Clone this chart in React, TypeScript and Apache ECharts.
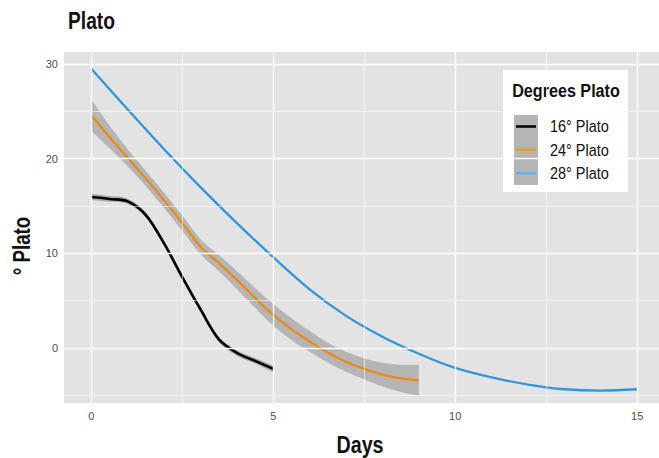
import React, { useEffect, useRef } from "react";
import * as echarts from "echarts";

const FONT = "'Liberation Sans', Arial, sans-serif";

// Data
const days16 = [0, 0.5, 1, 1.5, 2, 2.5, 3, 3.5, 4, 4.5, 5];
const plato16 = [15.95, 15.75, 15.5, 14.05, 11.05, 7.5, 4.1, 0.95, -0.5, -1.35, -2.2];
const se16 = [0.35, 0.3, 0.28, 0.28, 0.28, 0.28, 0.28, 0.28, 0.28, 0.3, 0.35];

const days24 = [0, 0.5, 1, 1.5, 2, 2.5, 3, 3.5, 4, 4.5, 5, 5.5, 6, 6.5, 7, 7.5, 8, 8.5, 9];
const plato24 = [24.6, 22.3, 20.1, 17.9, 15.6, 13.2, 10.7, 9.0, 7.2, 5.3, 3.5, 2.0, 0.7, -0.5, -1.45, -2.2, -2.8, -3.2, -3.4];
const se24 = [1.65, 1.2, 0.9, 0.8, 0.8, 0.8, 0.8, 0.85, 0.95, 1.05, 1.15, 1.15, 1.1, 1.05, 1.05, 1.1, 1.25, 1.45, 1.65];

const days28 = [0, 1, 2, 3, 4, 5, 6, 7, 8, 9, 10, 11, 12, 13, 14, 15];
const plato28 = [29.5, 25.2, 21.0, 17.0, 13.2, 9.6, 6.2, 3.4, 1.2, -0.6, -2.1, -3.1, -3.85, -4.35, -4.5, -4.35];

const xTicks = [0, 5, 10, 15];
const yTicks = [0, 10, 20, 30];
const xMinor = [2.5, 7.5, 12.5];
const yMinor = [-5, 5, 15, 25];

const seriesNames = ["16° Plato", "24° Plato", "28° Plato"];
const lineColors = ["#000000", "#e8891a", "#3196d8"];
const keyColors = ["#000000", "#e8a020", "#5db4e6"];

type Pt = number[];

function curveThrough(pts: Pt[]): string {
  let d = "";
  for (let i = 0; i < pts.length - 1; i++) {
    const p0 = pts[i - 1] || pts[i];
    const p1 = pts[i];
    const p2 = pts[i + 1];
    const p3 = pts[i + 2] || p2;
    const c1x = p1[0] + (p2[0] - p0[0]) / 6;
    const c1y = p1[1] + (p2[1] - p0[1]) / 6;
    const c2x = p2[0] - (p3[0] - p1[0]) / 6;
    const c2y = p2[1] - (p3[1] - p1[1]) / 6;
    d += ` C${c1x},${c1y} ${c2x},${c2y} ${p2[0]},${p2[1]}`;
  }
  return d;
}

function bandSeries(name: string, xs: number[], ys: number[], se: number[], color: string) {
  return {
    type: "custom",
    name,
    silent: true,
    z: 2,
    data: [[xs[0], ys[0]]],
    renderItem: (_params: any, api: any) => {
      const up = xs.map((x, i) => api.coord([x, ys[i] + se[i]]));
      const lo = xs.map((x, i) => api.coord([x, ys[i] - se[i]])).reverse();
      const d =
        `M${up[0][0]},${up[0][1]}` +
        curveThrough(up) +
        ` L${lo[0][0]},${lo[0][1]}` +
        curveThrough(lo) +
        " Z";
      return { type: "path", shape: { pathData: d }, style: { fill: color, stroke: "none" } };
    },
  };
}

function label(text: string, x: number, y: number, size: number, bold: boolean, sx: number, extra: any = {}) {
  return {
    type: "text",
    x,
    y,
    scaleX: sx,
    ...extra,
    style: {
      text,
      fontFamily: FONT,
      fontSize: size,
      fontWeight: bold ? "bold" : "normal",
      fill: "#111",
      align: extra.align || "left",
      verticalAlign: "middle",
    },
  };
}

export default function App() {
  const ref = useRef<HTMLDivElement>(null);
  useEffect(() => {
    if (!ref.current) return;
    const chart = echarts.init(ref.current, undefined, { renderer: "svg" });
    const major = { color: "#ffffff", width: 1.3, type: "solid" };
    const minor = { color: "#ffffff", width: 0.6, type: "solid" };
    const gridMarks = [
      ...yTicks.map((v) => ({ yAxis: v, lineStyle: major })),
      ...xTicks.map((v) => ({ xAxis: v, lineStyle: major })),
      ...yMinor.map((v) => ({ yAxis: v, lineStyle: minor })),
      ...xMinor.map((v) => ({ xAxis: v, lineStyle: minor })),
    ];
    const lineSeries = (i: number, xs: number[], ys: number[], w: number) => ({
      type: "line",
      name: seriesNames[i],
      data: xs.map((x, k) => [x, ys[k]]),
      smooth: 0.33,
      showSymbol: false,
      symbol: "none",
      lineStyle: { color: lineColors[i], width: w },
      z: 3,
    });
    const option: any = {
      animation: false,
      textStyle: { fontFamily: FONT },
      grid: {
        left: 64,
        right: 0,
        top: 52,
        bottom: 55,
        show: true,
        backgroundColor: "#e3e3e3",
        borderWidth: 0,
      },
      xAxis: {
        type: "value",
        min: -0.75,
        max: 15.6,
        axisLine: { show: false },
        splitLine: { show: false },
        axisTick: { show: true, customValues: xTicks, length: 4, lineStyle: { color: "#333", width: 1 } },
        axisLabel: { customValues: xTicks, fontSize: 11, color: "#4d4d4d", margin: 7, fontFamily: FONT },
      },
      yAxis: {
        type: "value",
        min: -5.8,
        max: 31.27,
        axisLine: { show: false },
        splitLine: { show: false },
        axisTick: { show: true, customValues: yTicks, length: 4, lineStyle: { color: "#333", width: 1 } },
        axisLabel: { customValues: yTicks, fontSize: 11, color: "#4d4d4d", margin: 6, fontFamily: FONT },
      },
      graphic: [
        label("Plato", 68, 21, 24, true, 0.8),
        label("Days", 360, 445, 24, true, 0.82, { align: "center" }),
        label("° Plato", 22, 246, 24, true, 0.78, { align: "center", rotation: Math.PI / 2 }),
        {
          type: "group",
          left: 503,
          top: 70,
          children: [
            { type: "rect", shape: { x: 0, y: 0, width: 125, height: 122 }, style: { fill: "#ffffff" } },
            label("Degrees Plato", 63, 21, 19, true, 0.85, { align: "center" }),
            { type: "rect", shape: { x: 11, y: 45, width: 24, height: 70 }, style: { fill: "#b5b5b5" } },
            ...seriesNames.flatMap((n, i) => [
              {
                type: "line",
                shape: { x1: 13, y1: 56.5 + i * 23.3, x2: 33, y2: 56.5 + i * 23.3 },
                style: { stroke: keyColors[i], lineWidth: 2.5 },
              },
              label(n, 47, 56.5 + i * 23.3, 17, false, 0.85),
            ]),
          ],
        },
      ],
      series: [
        {
          type: "line",
          name: "grid",
          data: [[0, 0]],
          showSymbol: false,
          symbol: "none",
          lineStyle: { width: 0, opacity: 0 },
          silent: true,
          z: 1,
          markLine: {
            silent: true,
            symbol: ["none", "none"],
            label: { show: false },
            animation: false,
            data: gridMarks,
          },
        },
        bandSeries("16° Plato SE", days16, plato16, se16, "#a9a9a9"),
        bandSeries("24° Plato SE", days24, plato24, se24, "#b5b5b5"),
        lineSeries(0, days16, plato16, 2.6),
        lineSeries(1, days24, plato24, 2.3),
        lineSeries(2, days28, plato28, 2.3),
      ],
    };
    chart.setOption(option);
    return () => chart.dispose();
  }, []);
  return (
    <div
      ref={ref}
      style={{ position: "fixed", left: 0, top: 0, width: 659, height: 458, background: "#ffffff" }}
    />
  );
}
